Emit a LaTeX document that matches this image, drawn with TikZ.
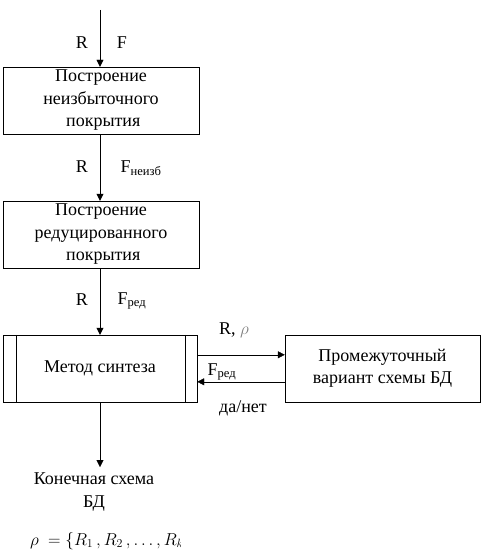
\documentclass[tikz,border=0pt]{standalone}
\usepackage{fontspec}
\setmainfont{Liberation Serif}
\usetikzlibrary{arrows.meta}

\tikzset{
  blok/.style={draw, minimum width=196pt, minimum height=67pt, align=center, inner sep=0pt},
  arr/.style={-{Triangle[length=7pt,width=7pt]}},
  txt/.style={inner sep=0pt}
}

\begin{document}
\begin{tikzpicture}[x=1pt,y=-1pt,font=\fontsize{18}{22.5}\selectfont]
			\useasboundingbox (0,0) rectangle (482,556);
			% blocks
			\node[blok] (nered) at (101,100.5) {Построение\\неизбыточного\\\ покрытия};
			\node[blok] (red) at (101,234.5) {Построение\\редуцированного\\\ покрытия};
			\node[blok, minimum width=194pt] (sint) at (100,368.5) {Метод синтеза};
			\node[blok, minimum width=195pt] (prom) at (382.5,368.5) {Промежуточный\\вариант схемы БД};
			\draw ([xshift=13pt]sint.north west) -- ([xshift=13pt]sint.south west);
			\draw ([xshift=-12pt]sint.north east) -- ([xshift=-12pt]sint.south east);
			% vertical arrows
			\coordinate (vhod) at (100,10);
			\coordinate (kon) at (100,467);
			\draw[arr] (vhod) -- (vhod |- nered.north);
			\draw[arr] (vhod |- nered.south) -- (vhod |- red.north);
			\draw[arr] (vhod |- red.south) -- (vhod |- sint.north);
			\draw[arr] (sint.south -| kon) -- (kon);
			% horizontal arrows
			\draw[arr] ([yshift=-20pt]sint.north east) -- ([yshift=-20pt]prom.north west);
			\draw[arr] ([yshift=-47pt]prom.north west) -- ([yshift=-47pt]sint.north east);
			% labels
			\node[txt] (r1) at (82,43) {R};
			\node[txt] (f1) at (122,43) {F};
			\node[txt] (r2) at (82,167) {R};
			\node[txt] (f2) at (141,168) {F\textsubscript{неизб}};
			\node[txt] (r3) at (82,300) {R};
			\node[txt] (f3) at (132,301) {F\textsubscript{ред}};
			\node[txt] (rro) at (234,330) {R, \textcolor{gray}{$\rho$}};
			\node[txt] (f4) at (222,372) {F\textsubscript{ред}};
			\node[txt] (dn) at (243,408) {да/нет};
			\node[txt, align=center] (itog) at (94,492) {Конечная схема\\БД};
			\begin{scope}
			\clip (0,520) rectangle (180,556);
			\node[txt, anchor=west] (rho) at (30,541) {$\rho\ ={\{}R_1\,,R_2\,,\ldots,R_k\}$};
			\end{scope}
\end{tikzpicture}
\end{document}
